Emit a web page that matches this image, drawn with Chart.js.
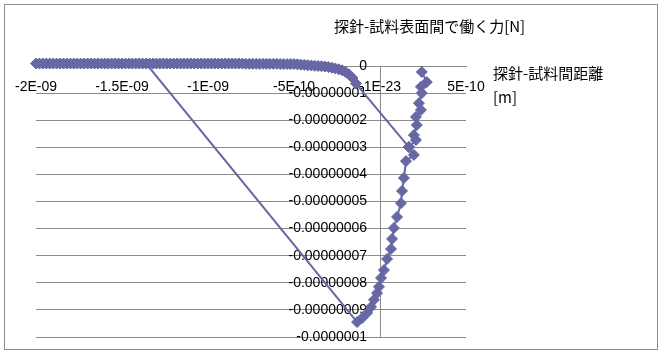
<!DOCTYPE html>
<html lang="ja">
<head>
  <meta charset="UTF-8" />
  <title>探針-試料表面間で働く力</title>
  <script src="https://cdn.jsdelivr.net/npm/chart.js"></script>
  <style>
    body {
      margin: 0;
      padding: 0;
      background: #ffffff;
    }
    canvas {
      display: block;
    }
  </style>
</head>
<body>
  <canvas id="forceChart" width="663" height="354"></canvas>

  <script>
    // distances in nm (x 1e-9 m), forces in units of 1e-8 N
    // steep branch: from the top of the column down to the minimum
    const branchDist = [0.243, 0.272, 0.238, 0.243, 0.226, 0.238, 0.209, 0.214, 0.197, 0.209,
                        0.168, 0.197, 0.151, 0.139, 0.128, 0.122, 0.099, 0.081, 0.070, 0.064,
                        0.041, 0.023, 0.006, -0.006, -0.017, -0.035, -0.052, -0.075, -0.104, -0.133];
    const branchForce = [-0.22, -0.59, -0.77, -1.00, -1.37, -1.62, -1.88, -2.18, -2.55, -2.73,
                         -2.99, -3.28, -3.51, -4.13, -4.61, -5.06, -5.57, -5.98, -6.38, -6.75,
                         -7.12, -7.53, -7.82, -8.15, -8.38, -8.63, -8.89, -9.11, -9.30, -9.45];

    // far field, walked back to the left edge
    const farDist = [-1.36, -1.38, -1.40, -1.42, -1.44, -1.46, -1.48, -1.50, -1.52, -1.54, -1.56,
                     -1.58, -1.60, -1.62, -1.64, -1.66, -1.68, -1.70, -1.72, -1.74, -1.76, -1.78,
                     -1.80, -1.82, -1.84, -1.86, -1.88, -1.90, -1.92, -1.94, -1.96, -1.98, -2.00];
    const farForce = [0.09, 0.09, 0.09, 0.09, 0.09, 0.09, 0.09, 0.09, 0.09, 0.09, 0.09,
                      0.09, 0.09, 0.09, 0.09, 0.09, 0.09, 0.09, 0.09, 0.09, 0.09, 0.09,
                      0.09, 0.09, 0.09, 0.09, 0.09, 0.09, 0.09, 0.09, 0.09, 0.09, 0.09];

    // approach towards the surface
    const nearDist = [-1.34, -1.32, -1.30, -1.28, -1.26, -1.24, -1.22, -1.20, -1.18, -1.16,
                      -1.14, -1.12, -1.10, -1.08, -1.06, -1.04, -1.02, -1.00, -0.98, -0.96,
                      -0.94, -0.92, -0.90, -0.88, -0.86, -0.84, -0.82, -0.80, -0.78, -0.76,
                      -0.74, -0.72, -0.70, -0.68, -0.66, -0.64, -0.62, -0.60, -0.58, -0.56,
                      -0.54, -0.52, -0.50, -0.48, -0.46, -0.44, -0.42, -0.40, -0.38, -0.36,
                      -0.34, -0.32, -0.30, -0.28, -0.26, -0.24, -0.22, -0.20, -0.18, -0.16, -0.14];
    const nearForce = [0.09, 0.09, 0.09, 0.09, 0.09, 0.09, 0.09, 0.09, 0.09, 0.09,
                       0.09, 0.09, 0.09, 0.09, 0.09, 0.09, 0.09, 0.09, 0.09, 0.09,
                       0.09, 0.09, 0.09, 0.09, 0.09, 0.09, 0.09, 0.09, 0.08, 0.08,
                       0.08, 0.08, 0.08, 0.08, 0.08, 0.08, 0.08, 0.08, 0.07, 0.07,
                       0.07, 0.07, 0.07, 0.06, 0.05, 0.04, 0.03, 0.02, 0.01, 0.00,
                       -0.01, -0.02, -0.04, -0.06, -0.09, -0.12, -0.16, -0.22, -0.31, -0.44, -0.65];

    // last point the line jumps to
    const endDist = [0.168];
    const endForce = [-2.99];

    const xTickLabels = ['-2E-09', '-1.5E-09', '-1E-09', '-5E-10', '-1E-23', '5E-10'];
    const yTickLabels = ['0', '-0.00000001', '-0.00000002', '-0.00000003', '-0.00000004', '-0.00000005',
                         '-0.00000006', '-0.00000007', '-0.00000008', '-0.00000009', '-0.0000001'];

    const forceTitle = '探針-試料表面間で働く力[N]';
    const distTitle = ['探針-試料間距離', '[m]'];

    const NM = 1e-9;
    const F_UNIT = 1e-8;
    const SERIES = '#6767a4';
    const GRID = '#8a8a8a';
    const TICK_FONT = { family: '"Liberation Sans", Arial, sans-serif', size: 14 };

    const allDist = branchDist.concat(farDist, nearDist, endDist);
    const allForce = branchForce.concat(farForce, nearForce, endForce);
    const points = allDist.map((d, i) => ({ x: d * NM, y: allForce[i] * F_UNIT }));

    const excelFrame = {
      id: 'excelFrame',
      beforeDraw(chart) {
        const c = chart.ctx;
        c.save();
        c.fillStyle = '#ffffff';
        c.fillRect(0, 0, chart.width, chart.height);
        c.strokeStyle = '#8c8c8c';
        c.lineWidth = 1;
        c.strokeRect(4.5, 4.5, 653, 345);
        c.restore();
      },
      afterDraw(chart) {
        const c = chart.ctx;
        c.save();
        c.fillStyle = '#000000';
        c.textBaseline = 'middle';
        c.font = '15px "Noto Sans CJK JP", sans-serif';
        c.fillText(forceTitle, 334, 26);
        c.fillText(distTitle[0], 493, 73);
        c.fillText(distTitle[1], 493, 97);
        c.restore();
      }
    };

    new Chart(document.getElementById('forceChart'), {
      type: 'scatter',
      data: {
        datasets: [{
          data: points,
          showLine: true,
          borderColor: SERIES,
          backgroundColor: SERIES,
          borderWidth: 2,
          pointStyle: 'rectRot',
          pointRadius: 5.5,
          pointBorderWidth: 1,
          tension: 0,
          clip: false
        }]
      },
      options: {
        responsive: false,
        animation: false,
        layout: { padding: { left: 36, right: 197, top: 66, bottom: 17 } },
        plugins: {
          legend: { display: false },
          tooltip: { enabled: false }
        },
        scales: {
          x: {
            type: 'linear',
            min: -2e-9,
            max: 5e-10,
            position: { y: 0 },
            ticks: {
              stepSize: 5e-10,
              autoSkip: false,
              maxRotation: 0,
              padding: 13,
              color: '#000000',
              font: TICK_FONT,
              callback: (v, i) => xTickLabels[i]
            },
            grid: {
              drawTicks: false,
              color: ctx => (ctx.tick && Math.abs(ctx.tick.value) < 1e-12) ? GRID : 'rgba(0,0,0,0)'
            },
            border: { color: GRID }
          },
          y: {
            type: 'linear',
            min: -1e-7,
            max: 0,
            position: { x: -7.5e-11 },
            ticks: {
              stepSize: 1e-8,
              autoSkip: false,
              color: '#000000',
              font: TICK_FONT,
              callback: v => yTickLabels[Math.round(-v / F_UNIT)]
            },
            grid: { drawTicks: false, color: GRID },
            border: { display: false }
          }
        }
      },
      plugins: [excelFrame]
    });
  </script>
</body>
</html>
